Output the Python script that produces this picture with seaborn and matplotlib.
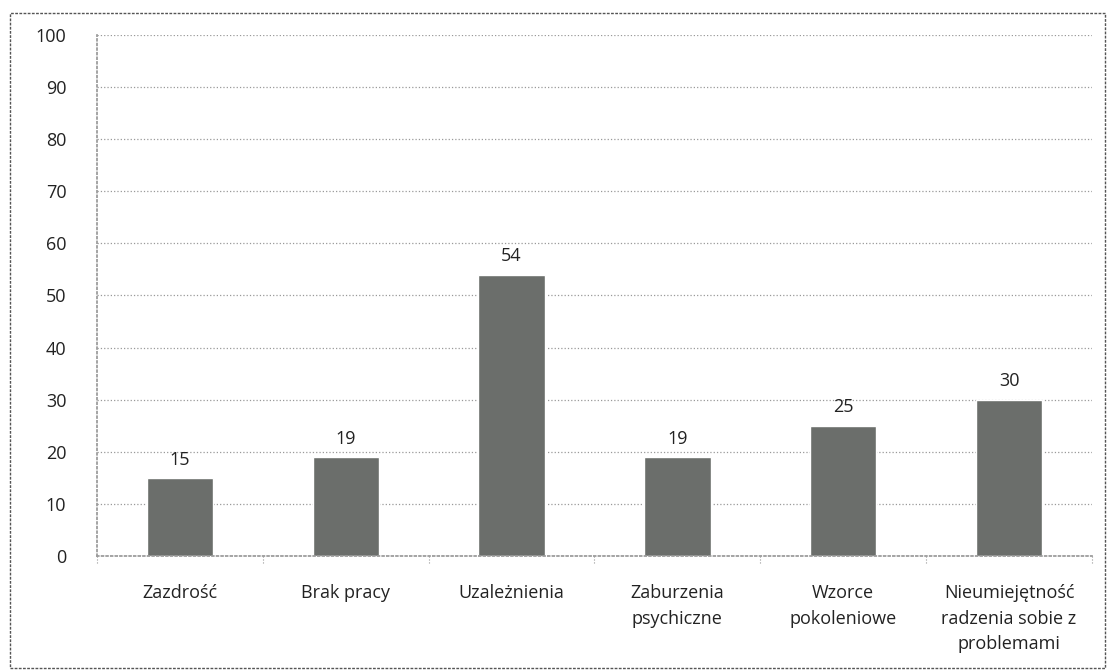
import matplotlib
matplotlib.use("Agg")
import matplotlib.pyplot as plt
import seaborn as sns
import pandas as pd
from matplotlib.patches import Rectangle

# Chart values
categories = ["Zazdrość", "Brak pracy", "Uzależnienia", "Zaburzenia\npsychiczne",
              "Wzorce\npokoleniowe", "Nieumiejętność\nradzenia sobie z\nproblemami"]
values = [15, 19, 54, 19, 25, 30]
y_ticks = list(range(0, 101, 10))

data = pd.DataFrame({"Category": categories, "Value": values})

sns.set_theme(style="white")
plt.rcParams["font.family"] = ["Open Sans", "DejaVu Sans"]

fig = plt.figure(figsize=(11.08, 6.70), dpi=100)
ax = fig.add_axes([0.0875, 0.170, 0.898, 0.778])

sns.barplot(data=data, x="Category", y="Value", color="#6b6e6b", width=0.4,
            saturation=1, ax=ax)

# value labels above bars
for i, v in enumerate(values):
    ax.text(i, v + 1.8, str(v), ha="center", va="bottom", fontsize=13, color="#222222")

ax.set_ylim(0, 100)
ax.set_xlim(-0.5, len(categories) - 0.5)
ax.set_yticks(y_ticks)
ax.set_yticklabels([str(t) for t in y_ticks], fontsize=13, color="#222222")
ax.set_xticks(range(len(categories)))
ax.set_xticklabels(categories, fontsize=13, color="#222222", linespacing=1.55)
ax.set_xlabel("")
ax.set_ylabel("")
ax.tick_params(axis="y", length=0, pad=22)
ax.tick_params(axis="x", length=0, pad=20)

ax.yaxis.grid(True, linestyle=":", color="#999999", linewidth=0.9)
ax.set_axisbelow(True)
for s in ["top", "right"]:
    ax.spines[s].set_visible(False)
ax.spines["left"].set_linestyle(":")
ax.spines["left"].set_color("#999999")
ax.spines["bottom"].set_linestyle(":")
ax.spines["bottom"].set_color("#999999")

# small ticks between categories
for b in range(len(categories) + 1):
    ax.plot([b - 0.5, b - 0.5], [0, -1.5], color="#999999", lw=0.8,
            clip_on=False, linestyle=":")

# frame around the whole chart
fig.patches.append(Rectangle((0.009, 0.003), 0.988, 0.977, transform=fig.transFigure,
                             fill=False, edgecolor="#555555", linewidth=1.0,
                             linestyle=(0, (2, 1))))

fig.savefig("out.png", dpi=100)
